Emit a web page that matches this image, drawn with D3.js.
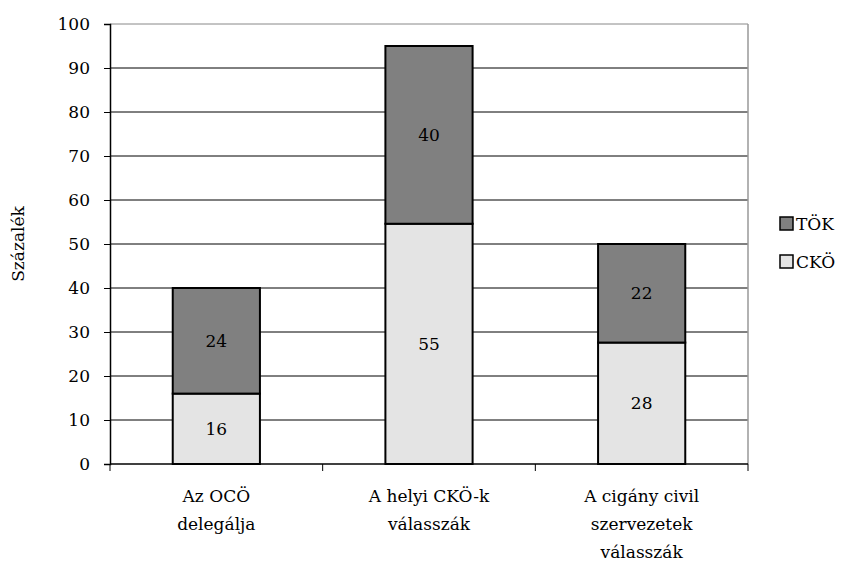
<!DOCTYPE html>
<html lang="hu">
<head>
<meta charset="UTF-8">
<style>
    body {margin: 0; background: #ffffff;}
    svg text {font-family: "DejaVu Serif", serif !important; fill: #000;}
</style>
</head>
<body>
<div id="chart"></div>
<script src="https://d3js.org/d3.v7.min.js"></script>
<script>
// data
var categories = [["Az OCÖ", "delegálja"], ["A helyi CKÖ-k", "válasszák"], ["A cigány civil", "szervezetek", "válasszák"]];
var cko = [16, 54.6, 27.6];
var tok = [24, 40.4, 22.4];
var seriesNames = ["TÖK", "CKÖ"];
var yTicks = [0, 10, 20, 30, 40, 50, 60, 70, 80, 90, 100];

var margin = {top: 24, right: 104, bottom: 104, left: 110};
var width = 852 - margin.left - margin.right;
var height = 568 - margin.top - margin.bottom;

var svg = d3.select("#chart").append("svg")
    .attr("width", 852)
    .attr("height", 568)
    .append("g")
    .attr("transform", "translate(" + margin.left + "," + margin.top + ")");

var idx = categories.map(function (d, i) { return i; });
var x = d3.scaleBand().domain(idx).range([0, width]).paddingInner(0.59).paddingOuter(0.295);
var y = d3.scaleLinear().domain([0, 100]).range([height, 0]);

// gridlines
svg.selectAll(".grid")
    .data(yTicks.slice(1))
    .enter().append("line")
    .attr("x1", 0).attr("x2", width)
    .attr("y1", function (d) { return y(d); })
    .attr("y2", function (d) { return y(d); })
    .attr("stroke", function (d) { return d === 100 ? "#888" : "#000"; })
    .attr("stroke-width", 1);

// right border
svg.append("line")
    .attr("x1", width).attr("x2", width)
    .attr("y1", 0).attr("y2", height)
    .attr("stroke", "#999").attr("stroke-width", 1.5);

// stacked bars
var stacks = idx.map(function (i) { return {i: i, cko: cko[i], tok: tok[i]}; });

svg.selectAll(".cko")
    .data(stacks)
    .enter().append("rect")
    .attr("x", function (d) { return x(d.i); })
    .attr("y", function (d) { return y(d.cko); })
    .attr("width", x.bandwidth())
    .attr("height", function (d) { return height - y(d.cko); })
    .attr("fill", "#e4e4e4")
    .attr("stroke", "#000").attr("stroke-width", 2);

svg.selectAll(".tok")
    .data(stacks)
    .enter().append("rect")
    .attr("x", function (d) { return x(d.i); })
    .attr("y", function (d) { return y(d.cko + d.tok); })
    .attr("width", x.bandwidth())
    .attr("height", function (d) { return y(d.cko) - y(d.cko + d.tok); })
    .attr("fill", "#808080")
    .attr("stroke", "#000").attr("stroke-width", 2);

// value labels
svg.selectAll(".lcko")
    .data(stacks)
    .enter().append("text")
    .attr("x", function (d) { return x(d.i) + x.bandwidth() / 2; })
    .attr("y", function (d) { return y(d.cko / 2); })
    .attr("dy", "0.35em")
    .attr("text-anchor", "middle")
    .style("font-size", "17px")
    .text(function (d) { return Math.round(d.cko); });

svg.selectAll(".ltok")
    .data(stacks)
    .enter().append("text")
    .attr("x", function (d) { return x(d.i) + x.bandwidth() / 2; })
    .attr("y", function (d) { return y(d.cko + d.tok / 2); })
    .attr("dy", "0.35em")
    .attr("text-anchor", "middle")
    .style("font-size", "17px")
    .text(function (d) { return Math.round(d.tok); });

// y axis
var yAxis = svg.append("g")
    .call(d3.axisLeft(y).tickValues(yTicks).tickSize(6).tickPadding(14));
yAxis.attr("font-family", null).attr("font-size", null);
yAxis.select(".domain").attr("stroke", "#000").attr("stroke-width", 1.5);
yAxis.selectAll("text").style("font-size", "17px");

// x axis with ticks at category boundaries
svg.append("line")
    .attr("x1", 0).attr("x2", width)
    .attr("y1", height).attr("y2", height)
    .attr("stroke", "#000").attr("stroke-width", 1.5);
var bounds = idx.map(function (i) { return x(i) - x.step() * x.paddingOuter(); }).concat([width]);
svg.selectAll(".xtick")
    .data(bounds)
    .enter().append("line")
    .attr("x1", function (d) { return d; }).attr("x2", function (d) { return d; })
    .attr("y1", height).attr("y2", height + 7)
    .attr("stroke", "#000").attr("stroke-width", 1);

// category labels
var cat = svg.selectAll(".cat")
    .data(idx)
    .enter().append("text")
    .attr("text-anchor", "middle")
    .style("font-size", "17px")
    .attr("transform", function (i) { return "translate(" + (x(i) + x.bandwidth() / 2) + "," + (height + 38) + ")"; });
cat.selectAll("tspan")
    .data(function (i) { return categories[i]; })
    .enter().append("tspan")
    .attr("x", 0)
    .attr("y", function (d, j) { return j * 28; })
    .text(function (d) { return d; });

// y title
svg.append("text")
    .attr("transform", "translate(-86," + (height / 2) + ") rotate(-90)")
    .attr("text-anchor", "middle")
    .style("font-size", "17px")
    .text("Százalék");

// legend
var legendFill = ["#808080", "#e4e4e4"];
var legend = svg.selectAll(".legend")
    .data(seriesNames)
    .enter().append("g")
    .attr("transform", function (d, i) { return "translate(" + (width + 32) + "," + (193 + i * 38) + ")"; });
legend.append("rect")
    .attr("width", 13).attr("height", 13)
    .attr("fill", function (d, i) { return legendFill[i]; })
    .attr("stroke", "#000").attr("stroke-width", 1.5);
legend.append("text")
    .attr("x", 16).attr("y", 7).attr("dy", "0.35em")
    .style("font-size", "17px")
    .text(function (d) { return d; });
</script>
</body>
</html>
